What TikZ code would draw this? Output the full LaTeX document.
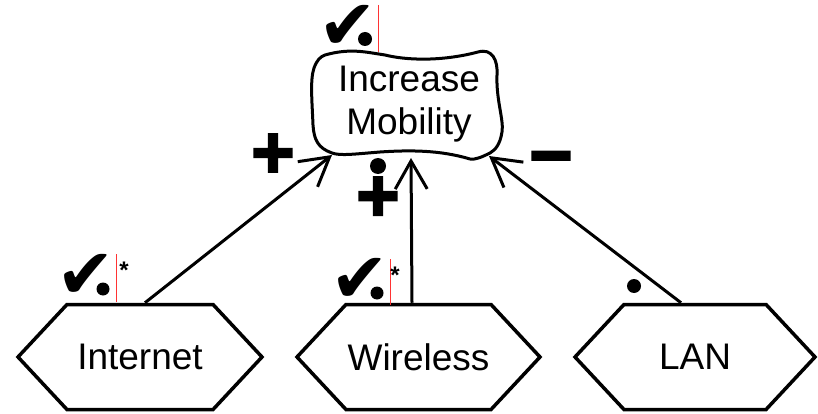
\documentclass[tikz,border=0pt]{standalone}
\usepackage{fontspec}
\setmainfont{Liberation Sans}
\newfontfamily\symfont{DejaVu Sans}
\newfontfamily\signfont[FakeBold=3]{Liberation Sans Bold}
\usetikzlibrary{arrows.meta,shapes.symbols}
\tikzset{
  goalText/.style={align=center,font=\fontsize{37}{43}\selectfont,inner sep=0pt},
  taskHex/.style={signal,signal to=west and east,signal pointer angle=94,
                  draw,line width=3.5pt,minimum height=105pt,
                  font=\fontsize{37}{43}\selectfont,inner sep=0pt},
  contrib/.style={-{Straight Barb[length=28pt,width=32pt,line width=3pt]},line width=3pt},
  signLbl/.style={font=\signfont\fontsize{74}{74}\selectfont,inner sep=0pt},
  checkLbl/.style={font=\symfont\fontsize{70}{70}\selectfont,inner sep=0pt,
                   anchor=base,text height=34pt,text depth=0pt},
  starLbl/.style={font=\bfseries\fontsize{24}{24}\selectfont,inner sep=0pt},
  cursor/.style={red!80,line width=1pt},
}
\begin{document}
\begin{tikzpicture}[x=1pt,y=-1pt]
\useasboundingbox (0,0) rectangle (818,414);

% softgoal
\node[goalText] (goal) at (409,104) {Increase\\Mobility};
\draw[line width=3pt,line join=round]
  (325,55) .. controls (350,48) and (365,52) .. (385,55)
  .. controls (405,60) and (440,62) .. (478,52)
  .. controls (492,48) and (498,60) .. (497,75)
  .. controls (496,100) and (504,120) .. (502,132)
  .. controls (500,145) and (495,150) .. (490,153)
  .. controls (482,157) and (475,160) .. (470,159)
  .. controls (440,150) and (410,150) .. (380,152)
  .. controls (355,154) and (340,156) .. (332,153)
  .. controls (318,148) and (314,140) .. (313,125)
  .. controls (312,100) and (310,80) .. (314,68)
  .. controls (317,60) and (320,57) .. (325,55) -- cycle;
\coordinate (goalL) at (332,155);
\coordinate (goalM) at (411,158);
\coordinate (goalR) at (489,156);

% tasks
\node[taskHex,minimum width=244pt] (internet) at (140,357) {Internet};
\node[taskHex,minimum width=243pt] (wireless) at (418.5,357) {Wireless};
\node[taskHex,minimum width=240pt] (lan) at (695,357) {LAN};

% contributions
\draw[contrib] ([xshift=5pt]internet.north) -- (goalL);
\draw[contrib] ([xshift=-6.5pt]wireless.north) -- (goalM);
\draw[contrib] ([xshift=-14pt]lan.north) -- (goalR);

\node[signLbl] (plusL) at (273,156) {+};
\node[signLbl] (plusM) at (378,199) {+};
\node[signLbl] (minusR) at (551,166) {−};
\fill (378,166) circle (8pt);
\fill (634,286) circle (7pt);

% evaluation marks
\node[checkLbl] (chkGoal) at (348,50) {✔};
\fill (365,39) circle (7pt);
\draw[cursor] (378,5) -- (378,52);

\node[checkLbl] (chkInternet) at (86,298) {✔};
\fill (103,289) circle (6.5pt);
\draw[cursor] (116,254) -- (116,302);
\node[starLbl] (starInternet) at (124,270) {*};

\node[checkLbl] (chkWireless) at (360,302) {✔};
\fill (377,293) circle (6.5pt);
\draw[cursor] (390,259) -- (390,305);
\node[starLbl] (starWireless) at (395,275) {*};
\end{tikzpicture}
\end{document}
